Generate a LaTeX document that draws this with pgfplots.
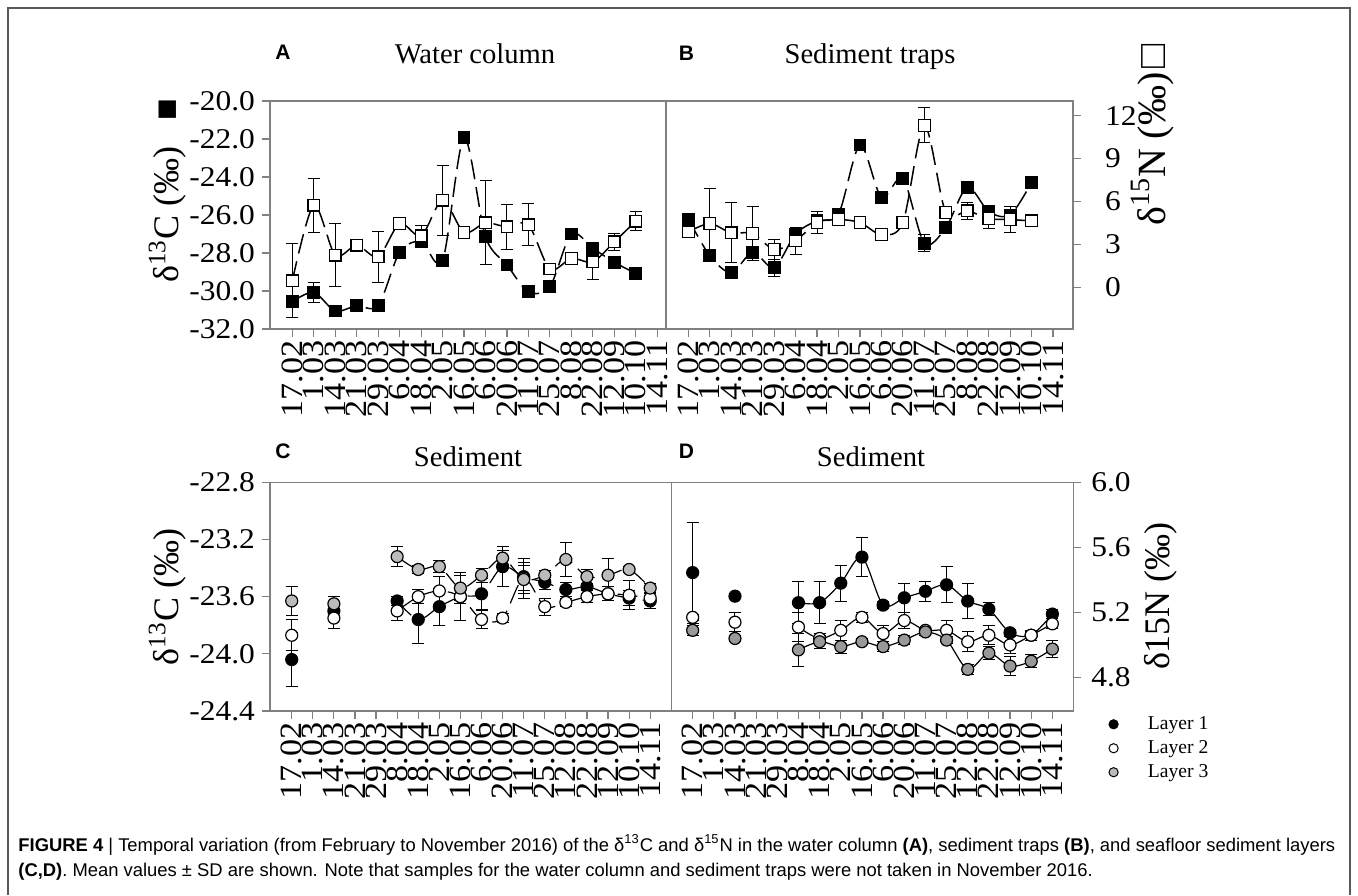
\documentclass[border=0pt]{standalone}
\usepackage{fontspec}
\setmainfont{Liberation Serif}
\newfontfamily\widefam[FakeStretch=1.1]{Liberation Serif}
\newfontfamily\capfont{Liberation Sans}
\usepackage{pgfplots}
\usepackage{pgfplotstable}
\pgfplotsset{compat=1.18}

\definecolor{lgray}{RGB}{187,187,187}
\definecolor{dgray}{RGB}{153,153,153}

\newcommand{\tickfont}{\widefam\fontsize{14.3}{15}\selectfont}
\newcommand{\titlefont}{\fontsize{14.3}{15}\selectfont}
\newcommand{\xtickfont}{\widefam\fontsize{15.5}{16}\selectfont}
\newcommand{\labfont}{\fontsize{18}{20}\selectfont}
\newcommand{\legfont}{\fontsize{9.8}{11}\selectfont}
\newcommand{\letfont}{\capfont\bfseries\fontsize{10.5}{11}\selectfont}

% water column: d13C (c) and d15N (n), with SD
\pgfplotstableread{
k c ce n ne
0 -30.56 0.30 0.46 2.60
1 -30.07 0.53 5.74 1.87
2 -31.05 0.10 2.25 2.20
3 -30.77 0.10 2.95 0.30
4 -30.77 0.10 2.14 1.80
5 -27.96 0.20 4.46 0.25
6 -27.40 0.20 3.60 0.75
7 -28.40 0.15 6.09 2.45
8 -21.93 0.15 3.84 0.10
9 -27.14 0.20 4.51 2.94
10 -28.63 0.10 4.23 1.58
11 -30.04 0.10 4.37 1.46
12 -29.77 0.10 1.28 0.20
13 -27.00 0.10 2.02 0.40
14 -27.75 0.10 1.79 1.23
15 -28.49 0.10 3.18 0.60
16 -29.07 0.10 4.63 0.66
}\tabA

% sediment traps
\pgfplotstableread{
k c ce n ne
0 -26.21 0.10 3.88 0.10
1 -28.14 0.20 4.46 2.44
2 -29.04 0.10 3.81 2.10
3 -27.96 0.20 3.77 1.88
4 -28.77 0.45 2.65 0.70
5 -27.00 0.20 3.25 0.95
6 -26.30 0.10 4.53 0.75
7 -25.95 0.10 4.74 0.30
8 -22.32 0.15 4.53 0.25
9 -25.07 0.10 3.70 0.10
10 -24.07 0.12 4.53 0.25
11 -27.49 0.45 11.33 1.23
12 -26.67 0.10 5.23 0.10
13 -24.54 0.10 5.35 0.60
14 -25.82 0.10 4.81 0.70
15 -26.00 0.10 4.74 0.90
16 -24.28 0.12 4.65 0.10
}\tabB

% sediment d13C, layers 1-3
\pgfplotstableread{
k a ae b be g ge
0 -24.04 0.19 -23.87 0.11 -23.63 0.10
1 nan 0 nan 0 nan 0
2 -23.70 0.05 -23.75 0.07 -23.65 0.05
3 nan 0 nan 0 nan 0
4 nan 0 nan 0 nan 0
5 -23.63 0.03 -23.70 0.07 -23.32 0.07
6 -23.76 0.17 -23.60 0.05 -23.41 0.03
7 -23.67 0.13 -23.56 0.10 -23.39 0.04
8 -23.60 0.05 -23.60 0.17 -23.54 0.09
9 -23.58 0.11 -23.76 0.06 -23.45 0.05
10 -23.39 0.14 -23.75 0.03 -23.33 0.05
11 -23.46 0.10 -23.47 0.14 -23.48 0.10
12 -23.50 0.05 -23.67 0.06 -23.45 0.03
13 -23.55 0.05 -23.64 0.03 -23.34 0.12
14 -23.53 0.05 -23.60 0.04 -23.46 0.05
15 -23.58 0.05 -23.58 0.05 -23.45 0.12
16 -23.61 0.05 -23.59 0.10 -23.41 0.02
17 -23.63 0.05 -23.61 0.04 -23.54 0.03
}\tabC

% sediment d15N, layers 1-3
\pgfplotstableread{
k a ae b be g ge
0 5.445 0.31 5.17 0.02 5.09 0.03
1 nan 0 nan 0 nan 0
2 5.30 0.00 5.14 0.06 5.04 0.02
3 nan 0 nan 0 nan 0
4 nan 0 nan 0 nan 0
5 5.26 0.13 5.11 0.09 4.97 0.10
6 5.26 0.13 5.04 0.03 5.02 0.04
7 5.38 0.11 5.09 0.06 4.99 0.04
8 5.54 0.12 5.17 0.03 5.02 0.02
9 5.245 0.02 5.07 0.05 4.99 0.03
10 5.29 0.09 5.15 0.05 5.03 0.03
11 5.33 0.06 5.09 0.02 5.08 0.02
12 5.37 0.11 5.09 0.06 5.03 0.02
13 5.27 0.11 5.02 0.06 4.85 0.03
14 5.22 0.04 5.06 0.06 4.95 0.04
15 5.075 0.02 5.00 0.05 4.87 0.06
16 5.06 0.02 5.06 0.03 4.90 0.04
17 5.19 0.03 5.13 0.03 4.975 0.05
}\tabD

\pgfplotsset{
  panel/.style={
    scale only axis, anchor=north west,
    axis line style={gray, line width=0.6pt},
    tick style={gray, line width=0.6pt},
    major tick length=4pt, tick align=outside,
    xtick={0,...,17}, xtick pos=bottom,
    xticklabel style={rotate=90, anchor=east, font=\xtickfont, inner sep=1.5pt},
    yticklabel style={font=\tickfont},
  },
  ebar/.style={
    error bars/y dir=both, error bars/y explicit,
    error bars/error bar style={solid, black, line width=0.5pt},
    error bars/error mark options={solid, black, rotate=90, mark size=3pt, line width=0.5pt},
  },
  sq/.style={black, line width=0.75pt, dash pattern=on 10pt off 4pt, smooth,
    mark=square*, mark size=2.9pt, mark options={solid, draw=black, fill=#1, line width=0.6pt}, ebar},
  cir/.style={black, line width=0.6pt, smooth, mark=*, mark size=3pt,
    mark options={solid, draw=black, fill=#1, line width=0.6pt}, ebar},
}

\def\datesA{17.02,1.03,14.03,21.03,29.03,6.04,18.04,2.05,16.05,6.06,20.06,11.07,25.07,8.08,22.08,12.09,10.10,14.11}
\def\datesC{17.02,1.03,14.03,21.03,29.03,8.04,18.04,2.05,16.05,6.06,20.06,11.07,25.07,12.08,22.08,12.09,10.10,14.11}

\begin{document}
\begin{tikzpicture}
\useasboundingbox (0,0) rectangle (679pt,-447.5pt);
\draw[gray!70!black, line width=0.6pt] (4pt,-447.5pt) -- (4pt,-4pt) -- (675pt,-4pt) -- (675pt,-447.5pt);

% A: water column
\begin{axis}[panel, at={(135pt,-50.5pt)}, width=198pt, height=114pt,
  xmin=-1.04, xmax=17.41, ymin=-32, ymax=-20, ytick pos=left,
  ytick={-32,-30,...,-20}, yticklabels={-32.0,-30.0,-28.0,-26.0,-24.0,-22.0,-20.0},
  xticklabels/.expand once={\datesA}]
\addplot+[sq=black] table[x=k, y=c, y error=ce] {\tabA};
\end{axis}
\begin{axis}[scale only axis, anchor=north west, at={(135pt,-50.5pt)}, width=198pt, height=114pt,
  xmin=-1.04, xmax=17.41, ymin=-2.91, ymax=13.03, hide axis]
\addplot+[sq=white] table[x=k, y=n, y error=ne] {\tabA};
\end{axis}

% B: sediment traps
\begin{axis}[panel, at={(333pt,-50.5pt)}, width=203.5pt, height=114pt,
  xmin=-1.04, xmax=17.93, ymin=-32, ymax=-20, ytick=\empty,
  xticklabels/.expand once={\datesA}]
\addplot+[sq=black] table[x=k, y=c, y error=ce] {\tabB};
\end{axis}
\begin{axis}[panel, at={(333pt,-50.5pt)}, width=203.5pt, height=114pt,
  xmin=-1.04, xmax=17.93, ymin=-2.91, ymax=13.03,
  axis x line=none, axis y line*=right,
  ytick={0,3,6,9,12}, yticklabels={0,3,6,9,12},
  yticklabel style={xshift=8.5pt}]
\addplot+[sq=white] table[x=k, y=n, y error=ne] {\tabB};
\end{axis}

% C: sediment d13C
\begin{axis}[panel, at={(135pt,-241.15pt)}, width=200.85pt, height=114.35pt,
  xmin=-1.03, xmax=18.02, ymin=-24.4, ymax=-22.8, ytick pos=left,
  unbounded coords=jump,
  ytick={-24.4,-24.0,-23.6,-23.2,-22.8}, yticklabels={-24.4,-24.0,-23.6,-23.2,-22.8},
  xticklabels/.expand once={\datesC}]
\addplot+[cir=black, dash pattern=on 10pt off 4pt] table[x=k, y=a, y error=ae] {\tabC};
\addplot+[cir=white, dash pattern=on 10pt off 4pt] table[x=k, y=b, y error=be] {\tabC};
\addplot+[cir=lgray, dash pattern=on 10pt off 4pt] table[x=k, y=g, y error=ge] {\tabC};
\end{axis}

% D: sediment d15N
\begin{axis}[panel, at={(335.85pt,-241.15pt)}, width=200.8pt, height=114.35pt,
  xmin=-0.99, xmax=17.99, ymin=4.594, ymax=6.0, ytick pos=right, yticklabel pos=right,
  unbounded coords=jump,
  ytick={4.8,5.2,5.6,6.0}, yticklabels={4.8,5.2,5.6,6.0},
  yticklabel style={xshift=1.5pt},
  xticklabels/.expand once={\datesC},
  legend style={at={(1.0866,-0.004)}, anchor=north west, draw=none, fill=none,
    font=\legfont, row sep=0pt, inner sep=0pt},
  legend cell align=left,
  legend image code/.code={\draw[#1, line width=0.5pt] (0pt,0pt) circle (2.3pt); \path (-2.3pt,0pt) (15pt,0pt);}]
\addplot+[cir=black, forget plot] table[x=k, y=a, y error=ae] {\tabD};
\addplot+[cir=white, forget plot] table[x=k, y=b, y error=be] {\tabD};
\addplot+[cir=dgray, forget plot] table[x=k, y=g, y error=ge] {\tabD};
\addlegendimage{draw=black, fill=black}
\addlegendentry{Layer 1}
\addlegendimage{draw=black, fill=white}
\addlegendentry{Layer 2}
\addlegendimage{draw=black, fill=lgray}
\addlegendentry{Layer 3}
\end{axis}

% titles and panel letters
\node[font=\titlefont, anchor=base] at (237.5pt,-31.7pt) {Water column};
\node[font=\titlefont, anchor=base] at (435pt,-31.7pt) {Sediment traps};
\node[font=\titlefont, anchor=base] at (234pt,-233pt) {Sediment};
\node[font=\titlefont, anchor=base] at (435.5pt,-233pt) {Sediment};
\node[font=\letfont, anchor=base west, inner sep=0pt] at (137.5pt,-29.7pt) {A};
\node[font=\letfont, anchor=base west, inner sep=0pt] at (339.2pt,-30pt) {B};
\node[font=\letfont, anchor=base west, inner sep=0pt] at (137.5pt,-229.2pt) {C};
\node[font=\letfont, anchor=base west, inner sep=0pt] at (339.2pt,-229.2pt) {D};

% axis labels
\node[font=\labfont, rotate=90, anchor=base, inner sep=0pt] at (89pt,-95.5pt) {δ\textsuperscript{13}C (‰)\hspace{13pt}■};
\node[font=\labfont, rotate=90, anchor=base, inner sep=0pt] at (89pt,-298.5pt) {δ\textsuperscript{13}C (‰)};
\node[font=\fontsize{20}{21}\selectfont, rotate=90, anchor=base, inner sep=0pt] at (582.5pt,-67.5pt) {δ\textsuperscript{15}N (‰)\hspace{2pt}□};
\node[font=\labfont, rotate=90, anchor=base, inner sep=0pt] at (584.5pt,-298pt) {δ15N (‰)};

% caption
\node[font=\capfont\fontsize{9.2}{10}\selectfont, anchor=base west, inner sep=0pt] at (9pt,-425.5pt)
  {\textbf{FIGURE 4} | Temporal variation (from February to November 2016) of the δ\textsuperscript{13}C and δ\textsuperscript{15}N in the water column \textbf{(A)}, sediment traps \textbf{(B)}, and seafloor sediment layers};
\node[font=\capfont\fontsize{9.2}{10}\selectfont, anchor=base west, inner sep=0pt] at (9pt,-438pt)
  {\textbf{(C,D)}. Mean values ± SD are shown. Note that samples for the water column and sediment traps were not taken in November 2016.};
\end{tikzpicture}
\end{document}
